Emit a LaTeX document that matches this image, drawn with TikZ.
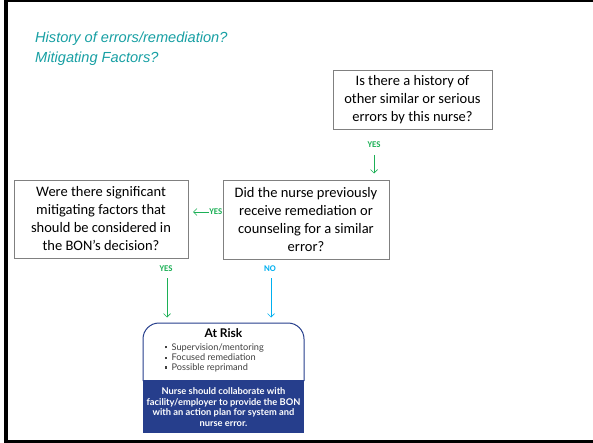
\documentclass[tikz,border=0pt]{standalone}
\usepackage{fontspec}
\setmainfont{Carlito}
\newfontfamily\titlefont{Liberation Sans}
\newfontfamily\riskfont{Lato}
\usetikzlibrary{arrows.meta}

\definecolor{teal}{RGB}{24,160,164}
\definecolor{yesgreen}{RGB}{28,176,86}
\definecolor{nocyan}{RGB}{0,176,240}
\definecolor{riskblue}{RGB}{38,62,140}
\definecolor{boxgray}{RGB}{128,128,128}

\tikzset{
  qbox/.style={draw=boxgray, line width=0.9pt, fill=white, align=center,
    inner sep=0pt, font=\fontsize{14.5}{18}\selectfont},
  answer/.style={font=\fontsize{8.8}{9}\selectfont\bfseries, inner sep=0pt},
  yeslabel/.style={answer, text=yesgreen},
  nolabel/.style={answer, text=nocyan},
  yesarrow/.style={draw=yesgreen, line width=0.7pt, -{Straight Barb[length=3.5pt,width=7pt]}},
  noarrow/.style={draw=nocyan, line width=0.7pt, -{Straight Barb[length=3.5pt,width=7pt]}},
  risktext/.style={font=\riskfont\fontsize{9.2}{10.5}\selectfont, text=black!75, inner sep=0pt, anchor=west},
  plantext/.style={font=\riskfont\bfseries\fontsize{9.3}{10.7}\selectfont, text=white, align=center, inner sep=0pt}
}

\begin{document}
\begin{tikzpicture}[x=1pt, y=-1pt]
  \useasboundingbox (0,0) rectangle (593,443);
  \fill[white] (0,0) rectangle (593,443);

  % slide frame
  \fill[black] (4,0) rectangle (7.5,443);
  \fill[black] (4,0) rectangle (593,2.5);
  \fill[black] (4,440) rectangle (593,443);

  % heading
  \node[anchor=west, inner sep=0pt, align=left, text=teal,
        font=\titlefont\itshape\fontsize{14.6}{20}\selectfont] (title) at (35,49)
        {History of errors/remediation?\\Mitigating Factors?};

  % questions
  \node[qbox, minimum width=159pt, minimum height=59pt] (hist) at (412.5,99.5)
    {Is there a history of\\other similar or serious\\errors by this nurse?};
  \node[qbox, minimum width=166pt, minimum height=79pt] (remed) at (306,219.5)
    {Did the nurse previously\\receive remediation or\\counseling for a similar\\error?};
  \node[qbox, minimum width=174pt, minimum height=78pt] (mitig) at (101,219)
    {Were there significant\\mitigating factors that\\should be considered in\\the BON’s decision?};

  % answers
  \node[yeslabel] (yes1) at (374,145) {YES};
  \coordinate (yes1s) at (374,155);
  \coordinate (yes1e) at (374,173.5);
  \draw[yesarrow] (yes1s) -- (yes1e);

  \node[yeslabel, anchor=east] (yes2) at (222.5,212) {YES};
  \coordinate (yes2e) at (193,212);
  \draw[yesarrow] (yes2.west) -- (yes2e);

  \node[yeslabel] (yes3) at (166,269) {YES};
  \coordinate (yes3s) at (167,278);
  \coordinate (yes3e) at (167,317.5);
  \draw[yesarrow] (yes3s) -- (yes3e);

  \node[nolabel] (no1) at (270,269) {NO};
  \coordinate (no1s) at (271,278);
  \coordinate (no1e) at (271,317.5);
  \draw[noarrow] (no1s) -- (no1e);

  % outcome card
  \fill[riskblue] (143,380) rectangle (304,432.5);
  \draw[riskblue, line width=1pt] (143,381) [rounded corners=16pt] -- (143,323) -- (304,323) [sharp corners] -- (304,381);
  \node[font=\riskfont\bfseries\fontsize{12}{14}\selectfont, inner sep=0pt] (risk) at (223.5,333) {At Risk};
  \node[risktext] (b1) at (164.5,347.5) {\rule[1.8pt]{2.4pt}{2.4pt}\hspace{4.5pt}Supervision/mentoring};
  \node[risktext] (b2) at (164.5,357.5) {\rule[1.8pt]{2.4pt}{2.4pt}\hspace{4.5pt}Focused remediation};
  \node[risktext] (b3) at (164.5,368) {\rule[1.8pt]{2.4pt}{2.4pt}\hspace{4.5pt}Possible reprimand};
  \node[plantext] (plan) at (223.5,407)
    {Nurse should collaborate with\\facility/employer to provide the BON\\with an action plan for system and\\nurse error.};
\end{tikzpicture}
\end{document}
